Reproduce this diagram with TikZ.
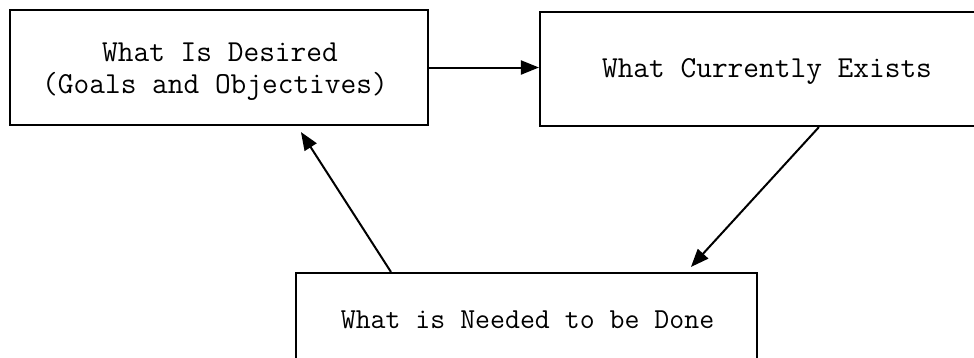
\documentclass[tikz,border=0pt]{standalone}
\usetikzlibrary{arrows.meta,calc}
\begin{document}
\begin{tikzpicture}[x=1pt,y=-1pt,
  stagebox/.style={draw=black,line width=2.1pt,rectangle,inner sep=0pt},
  boxtext/.style={anchor=base,inner sep=0pt,font=\ttfamily\fontsize{30.5}{32}\selectfont},
  flow/.style={draw=black,line width=2pt,-{Triangle[length=18pt,width=14pt]}}]
  \useasboundingbox (0,0) rectangle (974,357);
  \clip (0,0) rectangle (974,357);
  % the three stages (the last two run past the page edge)
  \node[stagebox,minimum width=418pt,minimum height=115pt] (desired) at (219,67.5) {};
  \node[stagebox,minimum width=454pt,minimum height=114pt] (current) at (767,69) {};
  \node[stagebox,minimum width=461pt,minimum height=90pt] (needed) at (526.5,318) {};
  % labels
  \node[boxtext] (desiredA) at (220,61) {What Is Desired};
  \node[boxtext] (desiredB) at (215,93) {(Goals and Objectives)};
  \node[boxtext] (currentA) at (767,77) {What Currently Exists};
  \node[boxtext,font=\ttfamily\fontsize{29}{31}\selectfont] (neededA) at (527.5,328) {What is Needed to be Done};
  % cycle of arrows
  \draw[flow] (desired.east) -- (desired.east -| current.west);
  \draw[flow] ($(current.south west)+(280,0)$) -- ($(needed.north west)+(396,-5)$);
  \draw[flow] ($(needed.north west)+(96,0)$) -- ($(desired.south west)+(292,6)$);
\end{tikzpicture}
\end{document}
